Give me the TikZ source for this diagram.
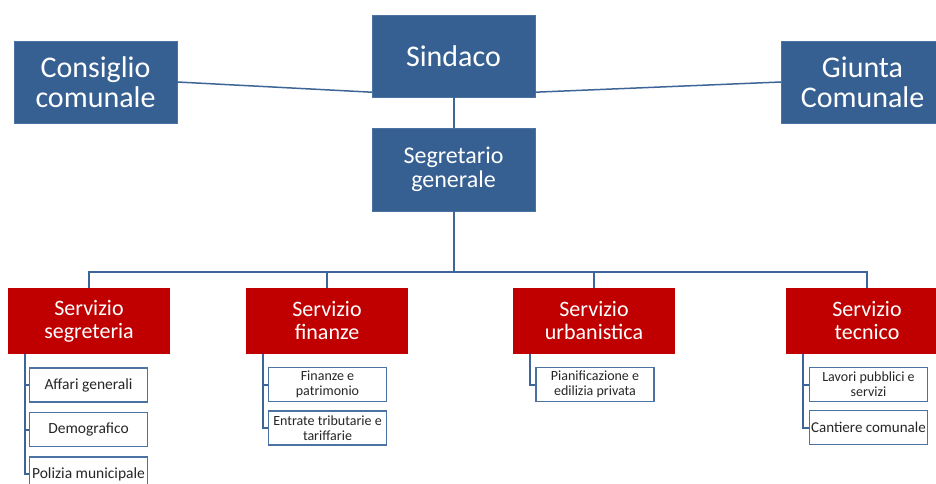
\documentclass[tikz,border=0pt]{standalone}
\usepackage{fontspec}
\setmainfont{Carlito}
\usepackage{xcolor}
\usepackage{tikz}
\usetikzlibrary{positioning,calc}

\definecolor{bluorg}{HTML}{376092}
\definecolor{bordoorg}{HTML}{4A72A3}
\definecolor{filoorg}{HTML}{3D6597}
\definecolor{rossoorg}{HTML}{C00000}

\begin{document}
\begin{tikzpicture}[x=1pt, y=-1pt,
  capo/.style={draw=bordoorg, fill=bluorg, text=white, minimum width=163pt,
               minimum height=82pt, align=center, inner sep=2pt},
  servizio/.style={fill=rossoorg, text=white, minimum width=162pt,
                   minimum height=66pt, align=center, inner sep=2pt,
                   font=\fontsize{22}{23}\selectfont},
  ufficio/.style={draw=bordoorg, line width=1.5pt, fill=white, text=black!85,
                  minimum width=118pt, minimum height=34pt, align=center,
                  inner sep=1pt, font=\fontsize{14}{15}\selectfont},
  filo/.style={draw=filoorg, line width=2pt},
]
  \useasboundingbox (0,0) rectangle (936,484);
  \clip (0,0) rectangle (936,484);

  % Organi di governo
  \node[capo, font=\fontsize{30}{30}\selectfont] (sind) at (453.5,56) {Sindaco};
  \node[capo, font=\fontsize{30}{30}\selectfont] (cons) at (95.5,82)  {Consiglio\\comunale};
  \node[capo, font=\fontsize{30}{30}\selectfont] (giun) at (862.5,82) {Giunta\\Comunale};
  \node[capo, minimum height=83pt, font=\fontsize{24}{24}\selectfont]
    (segr) at (453.5,169.5) {Segretario\\generale};

  % Servizi
  \node[servizio] (sseg) at (89,321)  {Servizio\\segreteria};
  \node[servizio] (sfin) at (327,321) {Servizio\\finanze};
  \node[servizio] (surb) at (594,321) {Servizio\\urbanistica};
  \node[servizio] (stec) at (867,321) {Servizio\\tecnico};

  % Uffici
  \node[ufficio, font=\fontsize{15.5}{15}\selectfont] (aff) at (88.5,385)  {Affari generali};
  \node[ufficio, font=\fontsize{15.5}{15}\selectfont] (dem) at (88.5,429.5) {Demografico};
  \node[ufficio, font=\fontsize{15.5}{15}\selectfont] (pol) at (88.5,474) {Polizia municipale};
  \node[ufficio] (fpat) at (327.5,384.5) {Finanze e\\patrimonio};
  \node[ufficio] (entr) at (327.5,428)   {Entrate tributarie e\\tariffarie};
  \node[ufficio] (pian) at (595,384.5)   {Pianificazione e\\edilizia privata};
  \node[ufficio] (lav)  at (868.5,384.5) {Lavori pubblici e\\servizi};
  \node[ufficio, font=\fontsize{15}{15}\selectfont] (cant) at (868.5,427.5) {Cantiere comunale};

  % Collegamenti tra organi
  \draw[filo, line width=1.5pt] (cons.east) -- ([yshift=5pt]sind.south west);
  \draw[filo, line width=1.5pt] (giun.west) -- ([yshift=5pt]sind.south east);
  \draw[filo] (sind) -- (segr);

  % Albero dei servizi
  \coordinate (bus) at (453.5,272);
  \draw[filo] (segr.south) -- (bus);
  \foreach \s in {sseg,sfin,surb,stec}
    \draw[filo] (bus) -| (\s.north);

  % Uffici appesi ai servizi
  \foreach \u in {aff,dem,pol}
    \draw[filo] ([xshift=17pt]sseg.south west) |- (\u.west);
  \foreach \u in {fpat,entr}
    \draw[filo] ([xshift=17pt]sfin.south west) |- (\u.west);
  \draw[filo] ([xshift=17pt]surb.south west) |- (pian.west);
  \foreach \u in {lav,cant}
    \draw[filo] ([xshift=17pt]stec.south west) |- (\u.west);
\end{tikzpicture}
\end{document}
